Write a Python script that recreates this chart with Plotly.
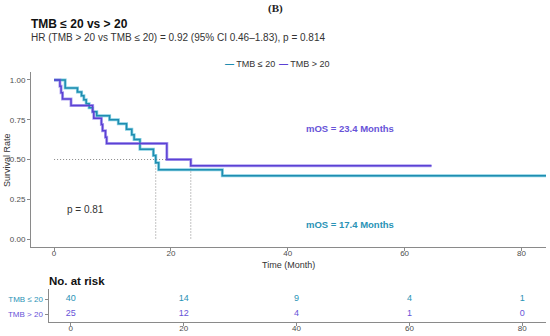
import plotly.graph_objects as go

W, H = 550, 336

# ---------------- data ----------------
group_names = ["TMB ≤ 20", "TMB > 20"]

teal_time = [0, 1.9, 4.0, 4.7, 5.1, 5.5, 6.0, 6.6, 7.3, 9.5, 11.0, 12.4, 13.3, 13.7,
             14.7, 17.0, 17.4, 17.9, 28.8, 84.2]
teal_surv = [1.0, 0.95, 0.925, 0.90, 0.875, 0.85, 0.825, 0.80, 0.775, 0.75, 0.725, 0.69,
             0.655, 0.625, 0.565, 0.525, 0.48, 0.435, 0.398, 0.398]

purple_time = [0, 1.0, 1.2, 1.45, 2.9, 6.6, 6.8, 8.1, 8.3, 8.8, 9.0, 19.3, 23.4, 64.6]
purple_surv = [1.0, 0.96, 0.92, 0.88, 0.84, 0.80, 0.76, 0.72, 0.68, 0.64, 0.60, 0.50, 0.46, 0.46]

medians = [17.4, 23.4]          # teal, purple
median_level = 0.5

risk_times = [0, 20, 40, 60, 80]
risk_teal = [40, 14, 9, 4, 1]
risk_purple = [25, 12, 4, 1, 0]

x_ticks = [0, 20, 40, 60, 80]
y_ticks = [0.00, 0.25, 0.50, 0.75, 1.00]
y_ticklabels = ["0.00", "0.25", "0.50", "0.75", "1.00"]

# ---------------- style ----------------
TEAL = "#1f8db0"
TEAL_LIGHT = "#86cfe2"
PURPLE = "#5b41d4"
PURPLE_LIGHT = "#b0a4f0"
TEAL_TXT = "#2a93b6"
PURPLE_TXT = "#6753d8"
AX = "#8a8a8a"
TICKTXT = "#4d4d4d"
FONT = "Liberation Sans"

def px_x(p):
    return p / W

def px_y(p):
    return 1 - p / H

fig = go.Figure()

# shadow lines (lighter, wider) underneath
fig.add_trace(go.Scatter(x=teal_time, y=teal_surv, mode="lines", line_shape="hv",
                         line=dict(color=TEAL_LIGHT, width=3), showlegend=False,
                         hoverinfo="skip", xaxis="x", yaxis="y"))
fig.add_trace(go.Scatter(x=purple_time, y=purple_surv, mode="lines", line_shape="hv",
                         line=dict(color=PURPLE_LIGHT, width=3), showlegend=False,
                         hoverinfo="skip", xaxis="x", yaxis="y"))

# median dotted lines
DOT = dict(color="#888888", width=1, dash="1px,2px")
fig.add_trace(go.Scatter(x=[0, max(medians)], y=[median_level, median_level], mode="lines",
                         line=DOT, showlegend=False, hoverinfo="skip"))
for m in medians:
    fig.add_trace(go.Scatter(x=[m, m], y=[median_level, 0], mode="lines",
                             line=DOT, showlegend=False, hoverinfo="skip"))

# main curves
fig.add_trace(go.Scatter(x=teal_time, y=teal_surv, mode="lines", line_shape="hv",
                         line=dict(color=TEAL, width=1.5), name=group_names[0],
                         showlegend=False))
fig.add_trace(go.Scatter(x=purple_time, y=purple_surv, mode="lines", line_shape="hv",
                         line=dict(color=PURPLE, width=1.5), name=group_names[1],
                         showlegend=False))

# risk table
fig.add_trace(go.Scatter(x=risk_times, y=[1] * len(risk_times), mode="text",
                         text=[str(v) for v in risk_teal],
                         textfont=dict(family=FONT, size=9, color=TEAL_TXT),
                         xaxis="x2", yaxis="y2", showlegend=False, hoverinfo="skip"))
fig.add_trace(go.Scatter(x=risk_times, y=[0] * len(risk_times), mode="text",
                         text=[str(v) for v in risk_purple],
                         textfont=dict(family=FONT, size=9, color=PURPLE_TXT),
                         xaxis="x2", yaxis="y2", showlegend=False, hoverinfo="skip"))

xr = [-3.95, 84.2]
axis_common = dict(showline=True, linecolor=AX, linewidth=1, ticks="outside", ticklen=3,
                   tickcolor=AX, showgrid=False, zeroline=False, automargin=False,
                   tickfont=dict(family=FONT, size=8, color=TICKTXT))

fig.update_layout(
    width=W, height=H,
    margin=dict(l=0, r=0, t=0, b=0),
    paper_bgcolor="white", plot_bgcolor="white",
    font=dict(family=FONT, color="#222"),
    xaxis=dict(domain=[px_x(31), px_x(546)], range=xr, tickvals=x_ticks,
               anchor="y", ticklabelstandoff=-5, **axis_common),
    yaxis=dict(domain=[px_y(247), px_y(72)], range=[-0.05, 1.05], tickvals=y_ticks,
               ticktext=y_ticklabels, anchor="x", **axis_common),
    xaxis2=dict(domain=[px_x(48.5), px_x(546)], range=xr, tickvals=x_ticks,
                anchor="y2", ticklabelstandoff=-5, **axis_common),
    yaxis2=dict(domain=[px_y(322), px_y(289)], range=[-0.53, 1.67], tickvals=[1, 0],
                ticktext=[f"<span style='color:{TEAL_TXT}'>{group_names[0]}</span>",
                          f"<span style='color:{PURPLE_TXT}'>{group_names[1]}</span>"],
                anchor="x2", **axis_common),
    showlegend=False,
)

ann = [
    dict(text="<b>(B)</b>", x=px_x(275), y=px_y(8), xanchor="center", yanchor="middle",
         font=dict(family="Liberation Serif", size=11, color="#222")),
    dict(text="<b>TMB ≤ 20 vs > 20</b>", x=px_x(29), y=px_y(24), xanchor="left",
         yanchor="middle", font=dict(family=FONT, size=12, color="#111")),
    dict(text="HR (TMB > 20 vs TMB ≤ 20) = 0.92 (95% CI 0.46–1.83), p = 0.814",
         x=px_x(29), y=px_y(37), xanchor="left", yanchor="middle",
         font=dict(family=FONT, size=10, color="#333")),
    # legend (keys + labels)
    dict(text=f"<span style='color:{TEAL}'><b>—</b></span> {group_names[0]}",
         x=px_x(223), y=px_y(64), xanchor="left", yanchor="middle",
         font=dict(family=FONT, size=9, color="#333")),
    dict(text=f"<span style='color:{PURPLE}'><b>—</b></span> {group_names[1]}",
         x=px_x(277), y=px_y(64), xanchor="left", yanchor="middle",
         font=dict(family=FONT, size=9, color="#333")),
    dict(text="Survival Rate", x=px_x(7), y=px_y(160), textangle=-90, xanchor="center",
         yanchor="middle", font=dict(family=FONT, size=9, color="#333")),
    dict(text="Time (Month)", x=px_x(288), y=px_y(265), xanchor="center", yanchor="middle",
         font=dict(family=FONT, size=9, color="#333")),
    dict(text="p = 0.81", x=px_x(65), y=px_y(209), xanchor="left", yanchor="middle",
         font=dict(family=FONT, size=10, color="#333")),
    dict(text=f"<b>mOS = {medians[1]} Months</b>", x=px_x(304), y=px_y(128), xanchor="left",
         yanchor="middle", font=dict(family=FONT, size=9.5, color=PURPLE_TXT)),
    dict(text=f"<b>mOS = {medians[0]} Months</b>", x=px_x(304), y=px_y(224), xanchor="left",
         yanchor="middle", font=dict(family=FONT, size=9.5, color=TEAL_TXT)),
    dict(text="<b>No. at risk</b>", x=px_x(47), y=px_y(281), xanchor="left", yanchor="middle",
         font=dict(family=FONT, size=11.5, color="#111")),
]
for a in ann:
    a.update(xref="paper", yref="paper", showarrow=False)
fig.update_layout(annotations=ann)

fig.write_html("out.html", config={"displayModeBar": False},
               post_script="document.body.style.margin='0';document.body.style.overflow='hidden';")
